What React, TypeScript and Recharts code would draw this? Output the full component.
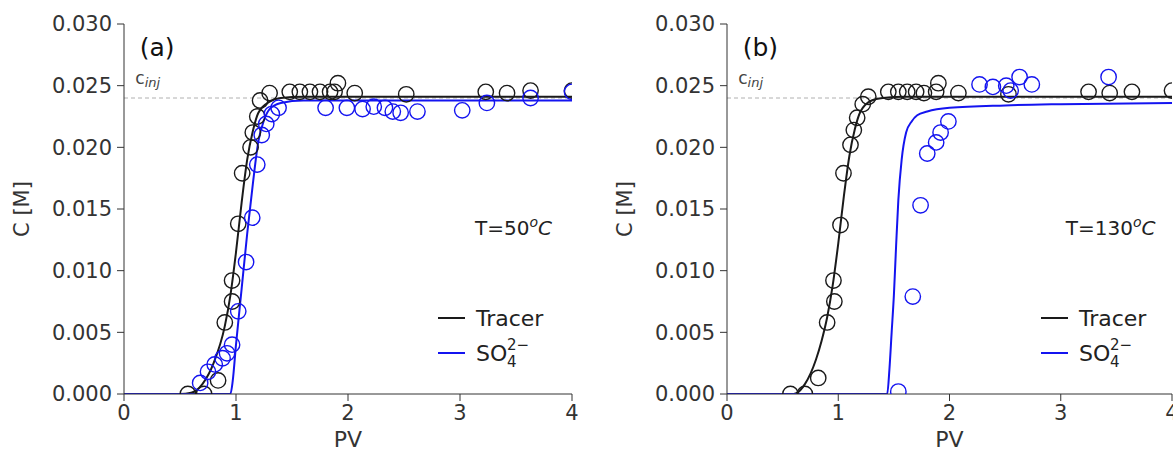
import React from 'react';
import {
  ComposedChart, Line, Scatter, XAxis, YAxis, ReferenceLine, ReferenceDot, Legend,
} from 'recharts';

const FONT = '"DejaVu Sans", sans-serif';
const BLACK = '#1a1a1a';
const BLUE = '#1414f0';
const AXIS = '#333333';

const PV_TICKS = [0, 1, 2, 3, 4];
const C_TICKS = [0, 0.005, 0.01, 0.015, 0.02, 0.025, 0.03];
const C_INJ = 0.024;

type P = [number, number];

const tracerPointsA: P[] = [
  [0.57, 0], [0.715, 0], [0.84, 0.0011], [0.9, 0.0058], [0.965, 0.0075], [0.965, 0.0092],
  [1.02, 0.0138], [1.055, 0.0179], [1.13, 0.02], [1.15, 0.0212], [1.19, 0.0225], [1.215, 0.0238],
  [1.3, 0.0244], [1.48, 0.0245], [1.57, 0.0245], [1.66, 0.0245], [1.75, 0.0245], [1.84, 0.0245],
  [1.88, 0.0245], [1.91, 0.0252], [2.06, 0.0244], [2.52, 0.0243], [3.23, 0.0245], [3.42, 0.0244],
  [3.63, 0.0246], [4.0, 0.0246],
];
const so4PointsA: P[] = [
  [0.68, 0.0009], [0.75, 0.0018], [0.81, 0.0024], [0.88, 0.0029], [0.92, 0.0033], [0.965, 0.004],
  [1.02, 0.0067], [1.09, 0.0107], [1.145, 0.0143], [1.19, 0.0186], [1.23, 0.021], [1.27, 0.0219],
  [1.32, 0.0227], [1.38, 0.0232], [1.8, 0.0232], [1.99, 0.0232], [2.13, 0.0231], [2.23, 0.0233],
  [2.33, 0.0232], [2.4, 0.0229], [2.47, 0.0228], [2.62, 0.0229], [3.02, 0.023], [3.24, 0.0236],
  [3.63, 0.024], [4.0, 0.0245],
];
const tracerFitA: P[] = [
  [0, 0], [0.5, 0], [0.6, 0.0001], [0.7, 0.0008], [0.8, 0.0025], [0.9, 0.0055], [0.95, 0.008],
  [1.0, 0.0115], [1.05, 0.0155], [1.1, 0.019], [1.15, 0.0213], [1.2, 0.0228], [1.3, 0.0237],
  [1.4, 0.024], [1.6, 0.0241], [4, 0.0241],
];
const so4FitA: P[] = [
  [0, 0], [0.95, 0], [0.97, 0.001], [1.0, 0.004], [1.05, 0.0085], [1.1, 0.013], [1.15, 0.017],
  [1.2, 0.0205], [1.25, 0.0222], [1.3, 0.0231], [1.4, 0.0236], [1.6, 0.0238], [4, 0.0238],
];

const tracerPointsB: P[] = [
  [0.57, 0], [0.7, 0], [0.82, 0.0013], [0.9, 0.0058], [0.965, 0.0075], [0.957, 0.0092],
  [1.02, 0.0137], [1.047, 0.0179], [1.11, 0.0202], [1.14, 0.0214], [1.17, 0.0224], [1.22, 0.0235],
  [1.27, 0.0241], [1.45, 0.0245], [1.54, 0.0245], [1.62, 0.0245], [1.7, 0.0245], [1.77, 0.0244],
  [1.88, 0.0245], [1.9, 0.0252], [2.08, 0.0244], [2.53, 0.0243], [3.25, 0.0245], [3.44, 0.0244],
  [3.64, 0.0245], [4.0, 0.0246],
];
const so4PointsB: P[] = [
  [1.54, 0.0002], [1.67, 0.0079], [1.74, 0.0153], [1.8, 0.0195], [1.88, 0.0204], [1.92, 0.0212],
  [1.99, 0.0221], [2.27, 0.0251], [2.39, 0.0249], [2.51, 0.025], [2.55, 0.0246], [2.63, 0.0257],
  [2.74, 0.0251], [3.43, 0.0257],
];
const tracerFitB: P[] = [
  [0, 0], [0.6, 0], [0.7, 0.0008], [0.8, 0.0028], [0.85, 0.0043], [0.9, 0.0062], [0.95, 0.0088],
  [1.0, 0.0122], [1.05, 0.016], [1.1, 0.0193], [1.15, 0.0215], [1.2, 0.0229], [1.3, 0.0238],
  [1.4, 0.024], [1.6, 0.0241], [4, 0.0241],
];
const so4FitB: P[] = [
  [0, 0], [1.44, 0], [1.46, 0.002], [1.48, 0.005], [1.5, 0.008], [1.52, 0.012], [1.54, 0.0157],
  [1.57, 0.019], [1.61, 0.0212], [1.66, 0.0221], [1.71, 0.0226], [1.8, 0.0229], [2.0, 0.0232],
  [2.5, 0.0234], [3.0, 0.0235], [4.0, 0.0236],
];

const toXY = (a: P[]) => a.map(([x, y]) => ({ x, y }));

const ring = (color: string) => (props: any) => (
  <circle cx={props.cx} cy={props.cy} r={7.7} fill="none" stroke={color} strokeWidth={1.4} />
);

const LegendBox = () => (
  <svg width={150} height={70} style={{ fontFamily: FONT }}>
    <line x1={8} x2={35} y1={18} y2={18} stroke={BLACK} strokeWidth={2} />
    <text x={46} y={26} fontSize={22} fill="#222">Tracer</text>
    <line x1={8} x2={35} y1={53} y2={53} stroke={BLUE} strokeWidth={2} />
    <text x={46} y={61} fontSize={22} fill="#222">SO</text>
    <text x={77} y={67} fontSize={15} fill="#222">4</text>
    <text x={77} y={50} fontSize={15} fill="#222">2−</text>
  </svg>
);

type PanelProps = {
  left: number;
  marginRight: number;
  tag: string;
  temp: string;
  tempX: number;
  tracerPts: P[];
  so4Pts: P[];
  tracerFit: P[];
  so4Fit: P[];
};

const Panel = ({ left, marginRight, tag, temp, tempX, tracerPts, so4Pts, tracerFit, so4Fit }: PanelProps) => (
  <div style={{ position: 'absolute', left, top: 0 }}>
    <ComposedChart
      width={600}
      height={457}
      margin={{ top: 24, right: marginRight, bottom: 8, left: 5 }}
      style={{ fontFamily: FONT }}
    >
      <XAxis
        type="number"
        dataKey="x"
        domain={[0, 4]}
        ticks={PV_TICKS}
        allowDataOverflow
        height={55}
        tickSize={7}
        tickMargin={4}
        stroke={AXIS}
        tick={{ fill: '#333', fontSize: 21, fontFamily: FONT }}
        label={{ value: 'PV', position: 'insideBottom', offset: 2, fill: '#333', fontSize: 22, fontFamily: FONT }}
      />
      <XAxis xAxisId="top" orientation="top" type="number" domain={[0, 4]} height={0} tick={false} tickLine={false} stroke={AXIS} />
      <YAxis
        type="number"
        domain={[0, 0.03]}
        ticks={C_TICKS}
        allowDataOverflow
        width={119}
        tickSize={7}
        tickMargin={5}
        stroke={AXIS}
        tickFormatter={(v: number) => v.toFixed(3)}
        tick={{ fill: '#333', fontSize: 21, fontFamily: FONT }}
        label={(p: any) => {
          const vb = p.viewBox;
          const cx = vb.x + 17;
          const cy = vb.y + vb.height / 2;
          return (
            <text x={cx} y={cy} transform={`rotate(-90 ${cx} ${cy})`} textAnchor="middle" dominantBaseline="central" fontSize={21} fill="#333" fontFamily={FONT}>
              C [M]
            </text>
          );
        }}
      />
      <YAxis yAxisId="right" orientation="right" type="number" domain={[0, 0.03]} width={0} tick={false} tickLine={false} stroke={AXIS} />
      <ReferenceLine y={C_INJ} stroke="#b0b0b0" strokeDasharray="4 3" strokeWidth={1} />
      <Line data={toXY(tracerFit)} dataKey="y" type="monotone" stroke={BLACK} strokeWidth={2} dot={false} isAnimationActive={false} legendType="none" />
      <Line data={toXY(so4Fit)} dataKey="y" type="monotone" stroke={BLUE} strokeWidth={2} dot={false} isAnimationActive={false} legendType="none" />
      <Scatter data={toXY(tracerPts)} dataKey="y" shape={ring(BLACK)} isAnimationActive={false} legendType="none" />
      <Scatter data={toXY(so4Pts)} dataKey="y" shape={ring(BLUE)} isAnimationActive={false} legendType="none" />
      <ReferenceDot
        x={0.15}
        y={0.0273}
        r={1}
        fill="none"
        stroke="none"
        label={(p: any) => (
          <text x={p.viewBox.x} y={p.viewBox.y} fontSize={25} fill="#111" fontFamily={FONT}>{tag}</text>
        )}
      />
      <ReferenceDot
        x={0.11}
        y={0.02505}
        r={1}
        fill="none"
        stroke="none"
        label={(p: any) => (
          <text x={p.viewBox.x} y={p.viewBox.y} fontSize={17} fill="#444" fontFamily={FONT}>
            c<tspan fontSize={13} fontStyle="italic" dy={3}>inj</tspan>
          </text>
        )}
      />
      <ReferenceDot
        x={tempX}
        y={0.0128}
        r={1}
        fill="none"
        stroke="none"
        label={(p: any) => (
          <text x={p.viewBox.x} y={p.viewBox.y} fontSize={20} fill="#222" fontFamily={FONT} textAnchor="end">
            {`T=${temp}`}
            <tspan fontSize={14} fontStyle="italic" dy={-8}>o</tspan>
            <tspan fontStyle="italic" dy={8}>C</tspan>
          </text>
        )}
      />
      <Legend
        layout="vertical"
        align="center"
        verticalAlign="middle"
        wrapperStyle={{ left: 430, top: 300, width: 150, height: 70 }}
        content={() => <LegendBox />}
      />
    </ComposedChart>
  </div>
);

export default function App() {
  return (
    <div style={{ position: 'absolute', left: 0, top: 0, width: 1173, height: 457, overflow: 'hidden', background: '#fff' }}>
      <Panel left={0} marginRight={28} tag="(a)" temp="50" tempX={3.83}
        tracerPts={tracerPointsA} so4Pts={so4PointsA} tracerFit={tracerFitA} so4Fit={so4FitA} />
      <Panel left={603} marginRight={31} tag="(b)" temp="130" tempX={3.86}
        tracerPts={tracerPointsB} so4Pts={so4PointsB} tracerFit={tracerFitB} so4Fit={so4FitB} />
    </div>
  );
}
